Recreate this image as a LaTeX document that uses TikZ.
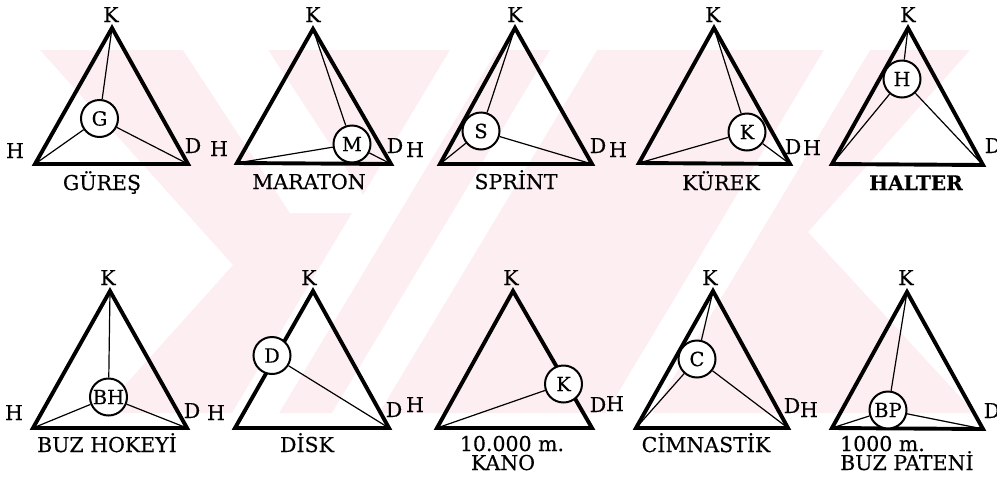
\documentclass[tikz,border=0pt]{standalone}
\usepackage{fontspec}
\setmainfont{DejaVu Serif}[FakeBold=0.4]
\definecolor{wm}{HTML}{FDEEF1}
\begin{document}
\begin{tikzpicture}[x=1pt,y=-1pt,
  tri/.style={line width=3.9pt, line join=miter},
  spoke/.style={line width=1.2pt},
  disc/.style={circle, draw, line width=2pt, fill=white, minimum size=37pt, inner sep=0pt, font=\fontsize{19.5}{19.5}\selectfont},
  lab/.style={anchor=base, inner sep=0pt, font=\fontsize{20.5}{20.5}\selectfont},
  labb/.style={lab, font=\fontsize{20}{20}\selectfont\bfseries}]
\useasboundingbox (0,0) rectangle (997,483);
% ---------- faint watermark ----------
\fill[wm] (40,50) -- (970,50) -- (808,232) -- (975,413) -- (100,413) -- (233,265) -- cycle;
\fill[white] (183,50) -- (268,50) -- (375,213) -- (290,213) -- cycle;
\fill[white] (450,50) -- (497,50) -- (279,413) -- (232,413) -- cycle;
\fill[white] (550,50) -- (597,50) -- (379,413) -- (332,413) -- cycle;
\fill[white] (824,50) -- (870,50) -- (652,413) -- (606,413) -- cycle;
% ---------- row 1 ----------
% 1 GURES
\coordinate (K1) at (112,28); \coordinate (H1) at (35,164); \coordinate (D1) at (188,164);
\draw[tri] (K1) -- (H1) -- (D1) -- cycle;
\node[disc] (c1) at (99.5,118.5) {G};
\draw[spoke] (K1) -- (c1) (H1) -- (c1) (D1) -- (c1);
\node[lab] (k1) at (111,22) {K};
\node[lab] (h1) at (15,158) {H};
\node[lab] (d1) at (193,153) {D};
\node[lab] (n1) at (102,190) {GÜREŞ};
% 2 MARATON
\coordinate (K2) at (313,29); \coordinate (H2) at (237,163); \coordinate (D2) at (391,164);
\draw[tri] (K2) -- (H2) -- (D2) -- cycle;
\node[disc] (c2) at (352,144) {M};
\draw[spoke] (K2) -- (c2) (H2) -- (c2) (D2) -- (c2);
\node[lab] (k2) at (313,22) {K};
\node[lab] (h2) at (219,156) {H};
\node[lab] (d2) at (395,153) {D};
\node[lab] (n2) at (309,189) {MARATON};
% 3 SPRINT
\coordinate (K3) at (515,28); \coordinate (H3) at (440,164); \coordinate (D3) at (592,164);
\draw[tri] (K3) -- (H3) -- (D3) -- cycle;
\node[disc] (c3) at (481,131) {S};
\draw[spoke] (K3) -- (c3) (H3) -- (c3) (D3) -- (c3);
\node[lab] (k3) at (515,22) {K};
\node[lab] (h3) at (415,157) {H};
\node[lab] (d3) at (598,153) {D};
\node[lab] (n3) at (516,189) {SPRİNT};
% 4 KUREK
\coordinate (K4) at (714,28); \coordinate (H4) at (639,163); \coordinate (D4) at (790,164);
\draw[tri] (K4) -- (H4) -- (D4) -- cycle;
\node[disc] (c4) at (747,132) {K};
\draw[spoke] (K4) -- (c4) (H4) -- (c4) (D4) -- (c4);
\node[lab] (k4) at (713,22) {K};
\node[lab] (h4) at (618,157) {H};
\node[lab] (d4) at (793,154) {D};
\node[lab] (n4) at (721,190) {KÜREK};
% 5 HALTER
\coordinate (K5) at (908,28); \coordinate (H5) at (832,164); \coordinate (D5) at (983,165);
\draw[tri] (K5) -- (H5) -- (D5) -- cycle;
\node[disc] (c5) at (902,79) {H};
\draw[spoke] (K5) -- (c5) (H5) -- (c5) (D5) -- (c5);
\node[lab] (k5) at (908,22) {K};
\node[lab] (h5) at (812,155) {H};
\node[lab] (d5) at (993,153) {D};
\node[labb] (n5) at (916,190) {HALTER};
% ---------- row 2 ----------
% 6 BUZ HOKEYI
\coordinate (K6) at (110,291); \coordinate (H6) at (33,428); \coordinate (D6) at (187,428);
\draw[tri] (K6) -- (H6) -- (D6) -- cycle;
\node[disc] (c6) at (108.5,397) {BH};
\draw[spoke] (K6) -- (c6) (H6) -- (c6) (D6) -- (c6);
\node[lab] (k6) at (108,285) {K};
\node[lab] (h6) at (14,420) {H};
\node[lab] (d6) at (192,418) {D};
\node[lab] (n6) at (107,452) {BUZ HOKEYİ};
% 7 DISK
\coordinate (K7) at (313,291); \coordinate (H7) at (235,428); \coordinate (D7) at (389,428);
\draw[tri] (K7) -- (H7) -- (D7) -- cycle;
\node[disc] (c7) at (272,355.5) {D};
\draw[spoke] (D7) -- (c7);
\node[lab] (k7) at (309,285) {K};
\node[lab] (h7) at (216,420) {H};
\node[lab] (d7) at (394,417) {D};
\node[lab] (n7) at (307,452) {DİSK};
% 8 KANO
\coordinate (K8) at (513,291); \coordinate (H8) at (437,428); \coordinate (D8) at (592,428);
\draw[tri] (K8) -- (H8) -- (D8) -- cycle;
\node[disc] (c8) at (563.5,384) {K};
\draw[spoke] (H8) -- (c8);
\node[lab] (k8) at (511,285) {K};
\node[lab] (h8) at (415,412) {H};
\node[lab] (d8) at (598,412) {D};
\node[lab] (n8a) at (512,451) {10.000 m.};
\node[lab] (n8b) at (503,470) {KANO};
% 9 CIMNASTIK
\coordinate (K9) at (713,291); \coordinate (H9) at (636,428); \coordinate (D9) at (788,428);
\draw[tri] (K9) -- (H9) -- (D9) -- cycle;
\node[disc] (c9) at (697,359) {C};
\draw[spoke] (K9) -- (c9) (H9) -- (c9) (D9) -- (c9);
\node[lab] (k9) at (710,285) {K};
\node[lab] (h9) at (615,411) {H};
\node[lab] (d9) at (792,413) {D};
\node[lab] (n9) at (706,452) {CİMNASTİK};
% 10 BUZ PATENI
\coordinate (K10) at (907,292); \coordinate (H10) at (832,428); \coordinate (D10) at (983,429);
\draw[tri] (K10) -- (H10) -- (D10) -- cycle;
\node[disc] (c10) at (888,410) {BP};
\draw[spoke] (K10) -- (c10) (H10) -- (c10) (D10) -- (c10);
\node[lab] (k10) at (906,285) {K};
\node[lab] (h10) at (809,417) {H};
\node[lab] (d10) at (992,418) {D};
\node[lab, anchor=base west] (n10a) at (840,451) {1000 m.};
\node[lab, anchor=base west] (n10b) at (840,470) {BUZ PATENİ};
\end{tikzpicture}
\end{document}
